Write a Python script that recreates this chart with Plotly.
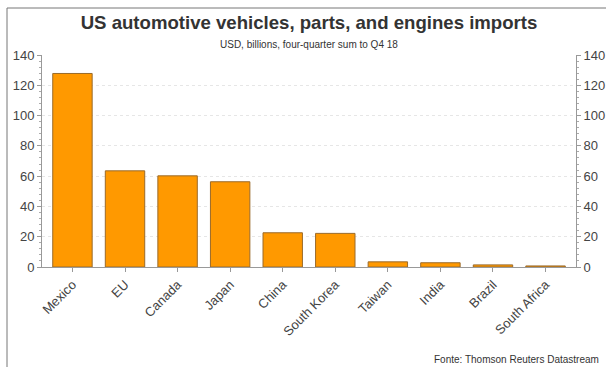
import plotly.graph_objects as go

categories = ["Mexico", "EU", "Canada", "Japan", "China", "South Korea",
              "Taiwan", "India", "Brazil", "South Africa"]
imports_bn = [127.8, 63.5, 60.2, 56.3, 22.6, 22.2, 3.4, 2.8, 1.4, 0.7]
y_ticks = [0, 20, 40, 60, 80, 100, 120, 140]

W, H = 606, 367
L, R, T, B = 42, 30, 55, 100
pw, ph = W - L - R, H - T - B

def px_x(x):
    return (x - L) / pw

def px_y(y):
    return (H - B - y) / ph

fig = go.Figure()
fig.add_trace(go.Bar(
    x=categories, y=imports_bn,
    marker=dict(color="#FF9900", line=dict(color="#9a6a2a", width=1)),
    width=0.75, showlegend=False, hoverinfo="x+y",
))
fig.add_trace(go.Scatter(x=categories, y=imports_bn, yaxis="y2",
                         mode="markers", marker=dict(opacity=0),
                         showlegend=False, hoverinfo="skip"))

axis_common = dict(
    range=[0, 140], tickvals=y_ticks, ticks="outside", ticklen=4,
    tickcolor="#999", showline=True, linecolor="#999", linewidth=1,
    tickfont=dict(family="Liberation Sans, Arial", size=13, color="#444"),
    minor=dict(ticks="outside", ticklen=2, dtick=4, tickcolor="#aaa", showgrid=False),
    zeroline=False, automargin=False,
)
fig.update_layout(
    width=W, height=H,
    margin=dict(l=L, r=R, t=T, b=B, autoexpand=False),
    paper_bgcolor="white", plot_bgcolor="white",
    font=dict(family="Liberation Sans, Arial", color="#333"),
    title=dict(text="<b>US automotive vehicles, parts, and engines imports</b>",
               x=0.5, xref="paper", y=1 - 22 / H, yanchor="middle",
               font=dict(size=18.6, color="#333")),
    xaxis=dict(tickangle=-45, ticks="outside", ticklen=4, tickcolor="#999",
               showline=True, linecolor="#999", automargin=False,
               tickfont=dict(size=13, color="#444"), showgrid=False),
    yaxis=dict(**axis_common, side="left", showgrid=True,
               gridcolor="#e6e6e6", griddash="dot"),
    yaxis2=dict(**axis_common, side="right", overlaying="y", showgrid=False),
    bargap=0.25,
    shapes=[
        dict(type="line", xref="paper", yref="paper",
             x0=px_x(7), x1=px_x(W + 5), y0=px_y(8), y1=px_y(8),
             line=dict(color="#777", width=1)),
        dict(type="line", xref="paper", yref="paper",
             x0=px_x(7), x1=px_x(7), y0=px_y(8), y1=px_y(H + 5),
             line=dict(color="#777", width=1)),
    ],
    annotations=[
        dict(text="USD, billions, four-quarter sum to Q4 18", xref="paper", yref="paper",
             x=0.5, y=px_y(45), xanchor="center", yanchor="middle",
             showarrow=False, font=dict(size=10, color="#333")),
        dict(text="Fonte: Thomson Reuters Datastream", xref="paper", yref="paper",
             x=px_x(601), y=px_y(359), xanchor="right", yanchor="middle",
             showarrow=False, font=dict(size=10, color="#333")),
    ],
)

fig.write_html("out.html", config={"displayModeBar": False},
               post_script="document.body.style.margin='0';document.body.style.overflow='hidden';")
